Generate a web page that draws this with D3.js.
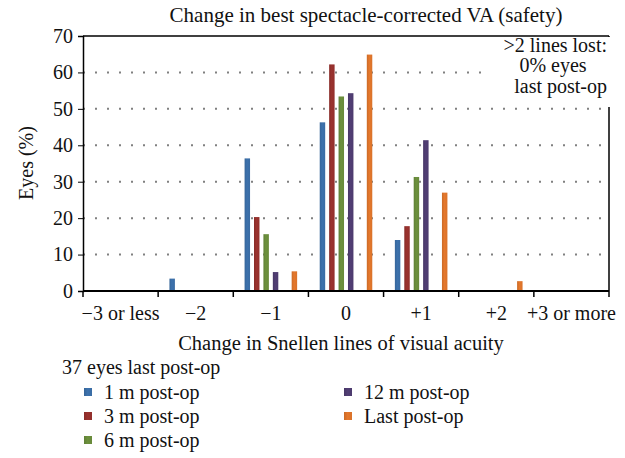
<!DOCTYPE html>
<html>
<head>
<meta charset="utf-8">
<script src="https://cdn.jsdelivr.net/npm/d3@7"></script>
<style>
  html, body { margin: 0; padding: 0; background: #fff; }
  svg { display: block; font-family: 'Liberation Serif', 'DejaVu Serif', serif; }
</style>
</head>
<body>
<svg id="chart" width="625" height="458"></svg>
<script>
(function (d3) {
  'use strict'
  // data [[[1
  const categories = ['\u22123 or less', '\u22122', '\u22121', '0', '+1', '+2', '+3 or more']
  const seriesNames = ['1 m post-op', '3 m post-op', '6 m post-op', '12 m post-op', 'Last post-op']
  // % of eyes per category, one array per series
  const m1 = [0, 3.4, 36.4, 46.3, 14.0, 0, 0]
  const m3 = [0, 0, 20.3, 62.2, 17.8, 0, 0]
  const m6 = [0, 0, 15.6, 53.4, 31.3, 0, 0]
  const m12 = [0, 0, 5.2, 54.3, 41.4, 0, 0]
  const last = [0, 0, 5.4, 64.9, 27.0, 2.7, 0]
  const yTicks = [0, 10, 20, 30, 40, 50, 60, 70]
  const colors = ['#3a6ca4', '#922f2c', '#67893a', '#4d3b6e', '#d9722a']

  // slot 4 of each group stays empty in the original
  const slots = ['s0', 's1', 's2', 's3', 'gap', 's5']
  const seriesSlot = ['s0', 's1', 's2', 's3', 's5']
  const values = [m1, m3, m6, m12, last]

  const FONT = 20

  // layout [[[1
  const W = 625
  const H = 458
  const margin = { top: 36, right: 16, bottom: 167, left: 83 }
  const iw = W - margin.left - margin.right
  const ih = H - margin.top - margin.bottom

  const svg = d3.select('#chart')

  // gradients for the bars
  const defs = svg.append('defs')
  colors.forEach((c, i) => {
    const g = defs.append('linearGradient').attr('id', 'grad' + i)
      .attr('x1', '0%').attr('x2', '100%').attr('y1', '0%').attr('y2', '0%')
    g.append('stop').attr('offset', '0%').attr('stop-color', d3.color(c).darker(0.2))
    g.append('stop').attr('offset', '45%').attr('stop-color', d3.color(c).brighter(0.15))
    g.append('stop').attr('offset', '100%').attr('stop-color', c)
  })

  const x = d3.scaleBand().domain(categories).range([0, iw]).padding(0)
  const xs = d3.scaleBand().domain(slots).range([0, x.bandwidth()])
    .paddingInner(0.42).paddingOuter(1.2)
  const y = d3.scaleLinear().domain([0, 70]).range([ih, 0])

  const g = svg.append('g').attr('transform', `translate(${margin.left},${margin.top})`)

  // grid [[[1
  g.append('g').selectAll('line')
    .data(yTicks.filter(t => t > 0 && t < 70))
    .enter().append('line')
    .attr('x1', 0).attr('x2', iw)
    .attr('y1', d => y(d)).attr('y2', d => y(d))
    .attr('stroke', '#808080')
    .attr('stroke-width', 2)
    .attr('stroke-dasharray', '2,10')

  // bars [[[1
  values.forEach((vals, si) => {
    g.append('g').selectAll('rect')
      .data(vals.map((v, ci) => ({ cat: categories[ci], v: v })).filter(d => d.v > 0))
      .enter().append('rect')
      .attr('x', d => x(d.cat) + xs(seriesSlot[si]))
      .attr('width', xs.bandwidth())
      .attr('y', d => y(d.v))
      .attr('height', d => ih - y(d.v))
      .attr('fill', 'url(#grad' + si + ')')
  })

  // frame + axes [[[1
  g.append('line').attr('x1', 0).attr('x2', iw).attr('y1', 0).attr('y2', 0)
    .attr('stroke', '#000').attr('stroke-width', 1.5)
  g.append('line').attr('x1', iw).attr('x2', iw).attr('y1', 0).attr('y2', ih)
    .attr('stroke', '#000').attr('stroke-width', 1.5)

  const yAxis = g.append('g')
    .call(d3.axisLeft(y).tickValues(yTicks).tickSize(5).tickPadding(5))
  yAxis.attr('font-family', null)
  yAxis.select('.domain').attr('stroke-width', 1.5)
  yAxis.selectAll('text')
    .attr('font-size', FONT).attr('fill', '#111')

  // bottom axis: ticks sit on the band edges
  const xAxis = g.append('g').attr('transform', `translate(0,${ih})`)
  xAxis.append('line').attr('x1', 0).attr('x2', iw).attr('y1', 0).attr('y2', 0)
    .attr('stroke', '#000').attr('stroke-width', 2)
  xAxis.selectAll('line.tk')
    .data(categories.map(c => x(c)).concat([iw]))
    .enter().append('line').attr('class', 'tk')
    .attr('x1', d => d).attr('x2', d => d).attr('y1', 0).attr('y2', 6)
    .attr('stroke', '#000').attr('stroke-width', 1.5)
  xAxis.selectAll('text')
    .data(categories)
    .enter().append('text')
    .attr('x', d => x(d) + x.bandwidth() / 2)
    .attr('y', 29)
    .attr('text-anchor', 'middle')
    .attr('font-size', FONT).attr('fill', '#111')
    .text(d => d)

  // titles [[[1
  svg.append('text')
    .attr('x', 366).attr('y', 22)
    .attr('text-anchor', 'middle')
    .attr('font-size', 21).attr('fill', '#111')
    .text('Change in best spectacle-corrected VA (safety)')

  svg.append('text')
    .attr('x', 341).attr('y', 350)
    .attr('text-anchor', 'middle')
    .attr('font-size', 20.5).attr('fill', '#111')
    .text('Change in Snellen lines of visual acuity')

  svg.append('text')
    .attr('transform', 'translate(33,163) rotate(-90)')
    .attr('text-anchor', 'middle')
    .attr('font-size', FONT).attr('fill', '#111')
    .text('Eyes (%)')

  // annotation box (covers the frame corner) [[[1
  svg.append('rect')
    .attr('x', 490).attr('y', 37).attr('width', 125).attr('height', 70)
    .attr('fill', '#fff')
  const note = svg.append('text').attr('font-size', FONT).attr('fill', '#111')
  note.append('tspan').attr('x', 607).attr('y', 52).attr('text-anchor', 'end').text('>2 lines lost:')
  note.append('tspan').attr('x', 553).attr('y', 72).attr('text-anchor', 'middle').text('0% eyes')
  note.append('tspan').attr('x', 607).attr('y', 93).attr('text-anchor', 'end').text('last post-op')

  // legend [[[1
  svg.append('text')
    .attr('x', 62).attr('y', 374)
    .attr('font-size', FONT).attr('fill', '#111')
    .text('37 eyes last post-op')

  const legendPos = [[84, 392], [84, 416], [84, 440], [344, 392], [344, 416]]
  const legend = svg.append('g').selectAll('g')
    .data(seriesNames)
    .enter().append('g')
    .attr('transform', (d, i) => `translate(${legendPos[i][0]},${legendPos[i][1]})`)
  legend.append('rect')
    .attr('x', 0).attr('y', -4).attr('width', 8).attr('height', 8)
    .attr('fill', (d, i) => 'url(#grad' + i + ')')
  legend.append('text')
    .attr('x', 20).attr('y', 7)
    .attr('font-size', FONT).attr('fill', '#111')
    .text(d => d)

}(d3))
</script>
</body>
</html>
